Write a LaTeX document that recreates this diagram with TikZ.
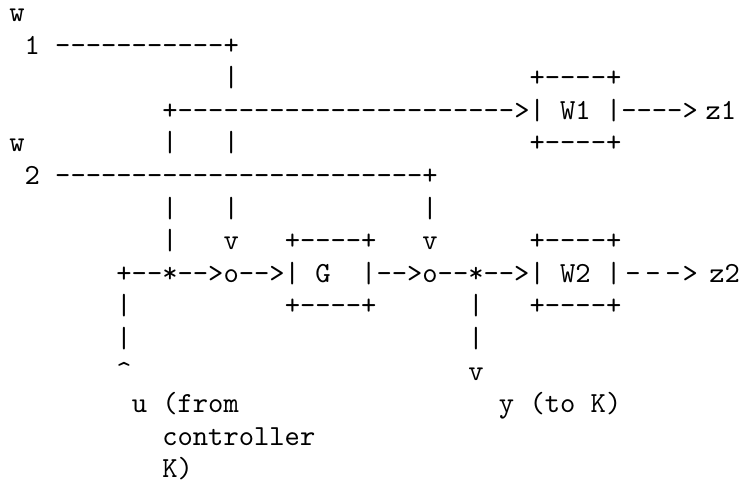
\documentclass[tikz,border=0pt]{standalone}
\usepackage{fontspec}
\setmonofont{lmmono10-regular.otf}
\tikzset{seg/.style={anchor=base west, inner sep=0pt, outer sep=0pt,
  font=\ttfamily\fontsize{29.14}{33}\selectfont, text=black}}
% #1 name, #2 column, #3 row, #4 text
\newcommand\seg[4]{\node[seg] (#1) at ({9.35+15.3*#2},{21.5+32.6*#3}) {#4};}
\begin{document}
\begin{tikzpicture}[x=1pt,y=-1pt]
\useasboundingbox (0,0) rectangle (744,487);
\seg{wa}{0}{0}{w}
\seg{wone}{1}{1}{1~-----------+}
\seg{va}{14}{2}{|}
\seg{wonetop}{34}{2}{+----+}
% + at col 10, 22 dashes (cols 11-32), > at col 33
\seg{wonerow}{10}{3}{+----------------------}
\seg{wonein}{33}{3}{>|~W1~|---->}
\seg{zone}{45.5}{3}{z1}
\seg{wb}{0}{4}{w}
\seg{vb}{10}{4}{|}
\seg{vc}{14}{4}{|}
\seg{wonebot}{34}{4}{+----+}
\seg{wtwo}{1}{5}{2~------------------------+}
\seg{vd}{10}{6}{|}
\seg{ve}{14}{6}{|}
\seg{vf}{27}{6}{|}
\seg{vg}{10}{7}{|}
\seg{arra}{14}{7}{v}
\seg{gtop}{18}{7}{+----+}
\seg{arrb}{27}{7}{v}
\seg{wtwotop}{34}{7}{+----+}
\seg{mainrow}{7}{8}{+--*-->o-->|~G~~|-->o--*-->|~W2~|}
\seg{da}{40.26}{8}{-}
\seg{db}{41.57}{8}{-}
\seg{dc}{42.88}{8}{-}
\seg{gt}{44}{8}{>}
\seg{ztwo}{45.75}{8}{z2}
\seg{vh}{7}{9}{|}
\seg{gbot}{18}{9}{+----+}
\seg{vi}{30}{9}{|}
\seg{wtwobot}{34}{9}{+----+}
\seg{vj}{7}{10}{|}
\seg{vk}{30}{10}{|}
\seg{arrc}{7}{11}{\textasciicircum}
\seg{arrd}{30}{11}{v}
\seg{ulab}{8}{12}{u~(from}
\seg{ylab}{32}{12}{y~(to~K)}
\seg{ulabb}{10}{13}{controller}
\seg{ulabc}{10}{14}{K)}
\end{tikzpicture}
\end{document}
